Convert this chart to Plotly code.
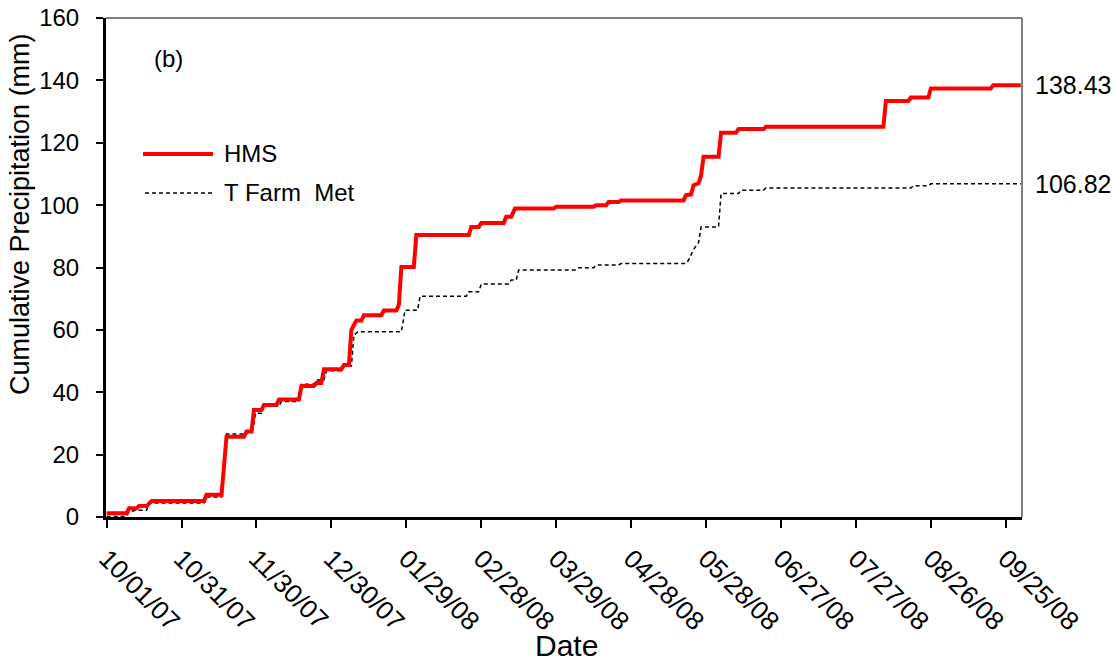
import pandas as pd
import plotly.graph_objects as go

# Cumulative precipitation, days counted from 10/01/07
start_date = "2007-10-01"

hms_day = [0, 8, 9, 12, 13, 16, 18, 39, 40, 46, 48, 55, 56, 58, 59, 62, 63, 68, 69, 77,
           78, 83, 84, 86, 87, 94, 95, 97, 98, 99, 100, 102, 103, 110, 111, 116, 117, 118,
           123, 124, 145, 146, 149, 150, 159, 160, 162, 163.5, 179, 180, 195, 196, 200, 201,
           205, 206, 231, 232, 234, 235, 237, 238, 239, 245, 246, 252, 253, 263, 264, 311,
           312, 321, 322, 329, 330, 354, 355, 366]
hms_mm = [1.2, 1.2, 2.8, 2.8, 3.5, 3.5, 5.1, 5.1, 7.1, 7.1, 25.7, 25.7, 27.4, 27.4, 34.3,
          34.3, 35.9, 35.9, 37.7, 37.7, 42.0, 42.0, 43.0, 43.0, 47.4, 47.4, 48.7, 48.7, 60.0,
          61.5, 63.0, 63.0, 64.7, 64.7, 66.2, 66.2, 68.0, 80.2, 80.2, 90.4, 90.4, 93.0, 93.0,
          94.3, 94.3, 96.3, 96.3, 98.9, 98.9, 99.5, 99.5, 100.0, 100.0, 101.0, 101.0, 101.5,
          101.5, 103.2, 103.4, 106.4, 107.0, 109.5, 115.5, 115.5, 123.2, 123.2, 124.4, 124.4,
          125.1, 125.1, 133.4, 133.4, 134.5, 134.5, 137.4, 137.4, 138.43, 138.43]

met_day = [0, 8, 9, 12, 16, 17, 39, 40, 46, 48, 56, 57, 58.6, 59.6, 62, 63, 69, 70, 77, 78,
           83, 84, 87, 88, 94, 95, 98, 99, 100.6, 118, 119.5, 124.5, 125.5, 144, 145, 149,
           150, 161, 162, 164, 165, 188, 189, 195, 196, 205, 206, 232, 233, 235, 237, 238,
           245, 246, 253, 254, 263, 264, 322, 323, 329, 330, 366]
met_mm = [0.2, 0.2, 1.7, 2.2, 2.2, 4.5, 4.5, 6.4, 6.4, 26.6, 26.6, 28.0, 28.0, 33.3, 33.3,
          35.6, 35.6, 37.0, 37.0, 42.6, 42.6, 43.9, 43.9, 46.9, 46.9, 48.4, 48.4, 58.3, 59.4,
          59.4, 66.3, 66.3, 70.8, 70.8, 72.2, 72.2, 74.7, 74.7, 76.0, 76.0, 79.2, 79.2, 79.9,
          79.9, 80.8, 80.8, 81.3, 81.3, 82.4, 85.8, 88.0, 93.0, 93.0, 103.7, 103.7, 104.8,
          104.8, 105.5, 105.5, 106.2, 106.2, 106.82, 106.82]

tick_labels = ["10/01/07", "10/31/07", "11/30/07", "12/30/07", "01/29/08", "02/28/08",
               "03/29/08", "04/28/08", "05/28/08", "06/27/08", "07/27/08", "08/26/08",
               "09/25/08"]

hms_final = 138.43
met_final = 106.82

t0 = pd.Timestamp(start_date)


def to_dates(days):
    return [t0 + pd.Timedelta(days=d) for d in days]


tick_dates = [pd.Timestamp(pd.to_datetime(s, format="%m/%d/%y")) for s in tick_labels]

FONT = "Liberation Sans, Arial, sans-serif"
TXT = 24

fig = go.Figure()
fig.add_trace(go.Scatter(x=to_dates(met_day), y=met_mm, mode="lines", name="T Farm Met",
                         line=dict(color="black", width=1.5, dash="4px,3px")))
fig.add_trace(go.Scatter(x=to_dates(hms_day), y=hms_mm, mode="lines", name="HMS",
                         line=dict(color="#ff0000", width=4)))

fig.update_layout(
    width=1115, height=666,
    margin=dict(l=106, r=93, t=18, b=149),
    paper_bgcolor="white", plot_bgcolor="white",
    showlegend=False,
    font=dict(family=FONT, color="black"),
    hovermode=False,
)

fig.update_xaxes(
    type="date", automargin=False,
    range=[t0 - pd.Timedelta(hours=6), t0 + pd.Timedelta(days=366.5)],
    tickvals=tick_dates, ticktext=tick_labels, tickangle=45,
    tickfont=dict(size=26, family=FONT),
    ticks="outside", ticklen=8, tickwidth=2, tickcolor="black",
    ticklabelstandoff=5,
    showline=True, linecolor="black", linewidth=3,
    showgrid=False, zeroline=False,
)
fig.update_yaxes(
    automargin=False,
    range=[0, 160], tickvals=list(range(0, 161, 20)),
    tickfont=dict(size=TXT, family=FONT),
    ticks="outside", ticklen=7, tickwidth=2, tickcolor="black",
    ticklabelstandoff=12,
    showline=True, linecolor="black", linewidth=3,
    showgrid=False, zeroline=False,
)

# y axis title
fig.add_annotation(x=-0.094, y=0.607, xref="paper", yref="paper",
                   text="Cumulative Precipitation (mm)", textangle=-90,
                   showarrow=False, xanchor="center", yanchor="middle",
                   font=dict(size=27, family=FONT))

# thin grey frame on top and right
fig.add_shape(type="line", xref="paper", yref="paper", x0=0, x1=1, y0=1, y1=1,
              line=dict(color="#808080", width=2))
fig.add_shape(type="line", xref="paper", yref="paper", x0=1, x1=1, y0=0, y1=1,
              line=dict(color="#808080", width=2))

# legend drawn by hand
fig.add_shape(type="line", xref="paper", yref="paper", x0=0.0404, x1=0.1168,
              y0=0.7275, y1=0.7275, line=dict(color="#ff0000", width=4))
fig.add_shape(type="line", xref="paper", yref="paper", x0=0.0426, x1=0.1168,
              y0=0.6493, y1=0.6493, line=dict(color="black", width=1.5, dash="4px,3px"))
fig.add_annotation(x=0.1266, y=0.7275, xref="paper", yref="paper", text="HMS",
                   showarrow=False, xanchor="left", yanchor="middle",
                   font=dict(size=TXT, family=FONT))
fig.add_annotation(x=0.1266, y=0.6493, xref="paper", yref="paper", text="T Farm  Met",
                   showarrow=False, xanchor="left", yanchor="middle",
                   font=dict(size=TXT, family=FONT))

fig.add_annotation(x=0.0677, y=0.918, xref="paper", yref="paper", text="(b)",
                   showarrow=False, xanchor="center", yanchor="middle",
                   font=dict(size=TXT, family=FONT))

# final totals at the right edge
for v in (hms_final, met_final):
    fig.add_annotation(x=1.012, y=v, xref="paper", yref="y", text=f"{v:.2f}",
                       showarrow=False, xanchor="left", yanchor="middle",
                       font=dict(size=25, family=FONT))

fig.add_annotation(x=0.503, y=-0.257, xref="paper", yref="paper", text="Date",
                   showarrow=False, xanchor="center", yanchor="middle",
                   font=dict(size=30, family=FONT))

fig.write_html("out.html")
